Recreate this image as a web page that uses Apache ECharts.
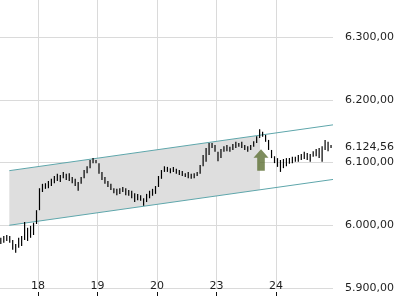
<!DOCTYPE html>
<html><head><meta charset="utf-8">
<script src="https://cdn.jsdelivr.net/npm/echarts@6/dist/echarts.min.js"></script>
<style>html,body{margin:0;padding:0;background:#fff}#c{width:400px;height:300px}</style>
</head><body><div id="c"></div>
<script>
// x axis: trading days (day index 0 = "17")
const dayLabels = ['17', '18', '19', '20', '23', '24'];
const firstBarDay = 0.375;   // day position of first visible bar
const barStep = 0.05;        // 20 bars per trading day
// bar highs / lows (index points)
const highs = [5980,5983,5984.5,5983,5976.5,5970,5980,5983,6005,5996,5999,6004,6024,6059,6066,6067,6070.5,6074,6078.5,6082,
  6080,6085,6082,6083,6077,6074,6069,6077,6088,6094,6104,6107,6104,6099,6085,6077,6070.5,6066,6059,6058,
  6059,6061,6059,6056,6055,6051,6050,6048,6043,6050,6055,6058,6062.5,6078.5,6088,6094,6093,6091,6093,6090,
  6088,6086.5,6083,6085,6082,6083,6085,6096,6112,6123,6131,6131,6128,6117,6121.5,6126,6128,6125,6129.5,6133,
  6131,6133,6128,6126,6128,6134,6142,6153,6149,6144,6136,6120,6110,6107,6104,6105.6,6107,6107,6109,6109,
  6112,6113.5,6117,6115,6113.5,6118,6121.5,6123,6126,6136,6133,6128];
const lows = [5970,5972,5975,5972,5961,5956,5964,5967,5976.5,5975,5980,5984.5,6002,6024,6053,6058,6059,6062.5,6067,6070.5,
  6069,6075,6072,6070.5,6067,6062.5,6055,6066,6075,6083,6091,6099,6099,6082,6072,6066,6061,6056,6051,6048,
  6050,6053,6048,6047,6043,6037,6040,6039,6031,6037,6043,6047,6050,6061,6074,6085,6085,6083,6085,6082,
  6080,6078.5,6077,6075,6074,6075,6078.5,6082,6094,6101,6112,6123,6117,6102,6107,6117,6118,6117,6120,6123,
  6125,6123,6120,6117,6120,6125,6131,6139,6141,6133,6120,6107,6099,6093,6085,6091,6094,6098,6099,6101,
  6101,6104,6105.6,6104,6101,6109,6110,6107,6101,6120,6118,6123];
const lastPrice = 6124.56;
// trend channel
const channelDays = [0.518, 5.958];
const channelUpper = [6087, 6160];
const channelLower = [6000, 6073];
const bandDays = [0.518, 4.73];
const bandLower = [6000, 6056.5];
const bandUpper = [6087, 6143.5];
// signal arrow
const arrowPoint = [4.748, 6104];

function de(v) {
  const s = v.toFixed(2).split('.');
  return s[0].replace(/\B(?=(\d{3})+(?!\d))/g, '.') + ',' + s[1];
}
const bars = highs.map((h, i) => [firstBarDay + i * barStep, lows[i], h]);
const bandData = bandDays.map((d, i) => [d, bandLower[i], bandUpper[i]]);
const txt = { fontFamily: 'DejaVu Sans', fontSize: 11, color: '#1e1e1e' };
const gridCol = '#dadada';

const chart = echarts.init(document.getElementById('c'), null, { renderer: 'canvas' });
chart.setOption({
  animation: false,
  grid: { left: -21.5, right: 67, top: -25.75, bottom: 12, containLabel: false, outerBoundsMode: 'none' },
  xAxis: {
    type: 'value', min: 0, max: 5.958, interval: 1, offset: 4,
    axisLine: { show: false },
    axisTick: { show: true, length: 4, lineStyle: { color: '#111' } },
    axisLabel: Object.assign({ inside: true, margin: 0, showMaxLabel: false, showMinLabel: false,
      formatter: v => (Number.isInteger(v) && dayLabels[v]) ? dayLabels[v] : '' }, txt),
    splitLine: { show: true, lineStyle: { color: [gridCol, gridCol, gridCol, gridCol, gridCol, gridCol, 'rgba(0,0,0,0)'] } }
  },
  yAxis: {
    type: 'value', position: 'right', min: 5900, max: 6400, interval: 100,
    axisLine: { show: false },
    axisTick: { show: true, length: 4, lineStyle: { color: '#111' } },
    axisLabel: Object.assign({ margin: 12, showMaxLabel: false, formatter: v => de(v) }, txt),
    splitLine: { show: true, lineStyle: { color: gridCol } }
  },
  series: [
    { type: 'custom', data: bandData, clip: true, silent: true, z: 1,
      renderItem: (params, api) => {
        if (params.dataIndex !== 0) return;
        const top = bandData.map(p => api.coord([p[0], p[2]]));
        const bot = bandData.map(p => api.coord([p[0], p[1]])).reverse();
        return { type: 'polygon', shape: { points: top.concat(bot) }, style: { fill: '#dedede' } };
      }
    },
    { type: 'line', data: channelDays.map((d, i) => [d, channelUpper[i]]), symbol: 'none', z: 2, clip: false,
      lineStyle: { color: '#5ea6ab', width: 1 },
      markLine: { silent: true, symbol: 'none', lineStyle: { color: 'rgba(0,0,0,0)', type: 'solid', width: 1 },
        label: Object.assign({ show: true, opacity: 1, position: 'end', distance: 12, formatter: () => de(lastPrice) }, txt),
        data: [{ yAxis: lastPrice }] } },
    { type: 'line', data: channelDays.map((d, i) => [d, channelLower[i]]), symbol: 'none', z: 2,
      lineStyle: { color: '#5ea6ab', width: 1 } },
    { type: 'custom', data: bars, clip: true, z: 3,
      renderItem: (params, api) => {
        const x = api.value(0);
        const lo = api.coord([x, api.value(1)]);
        const hi = api.coord([x, api.value(2)]);
        return { type: 'rect', shape: { x: lo[0] - 0.6, y: hi[1], width: 1.2, height: Math.max(1, lo[1] - hi[1]) },
          style: { fill: '#000' } };
      }
    },
    { type: 'scatter', data: [arrowPoint], z: 4, symbol: 'path://M7.5 0 L15 8.4 L11.3 8.4 L11.3 21.4 L3.7 21.4 L3.7 8.4 L0 8.4 Z',
      symbolSize: [15, 21.4], itemStyle: { color: '#5e7035' }, silent: true }
  ]
});
</script></body></html>
